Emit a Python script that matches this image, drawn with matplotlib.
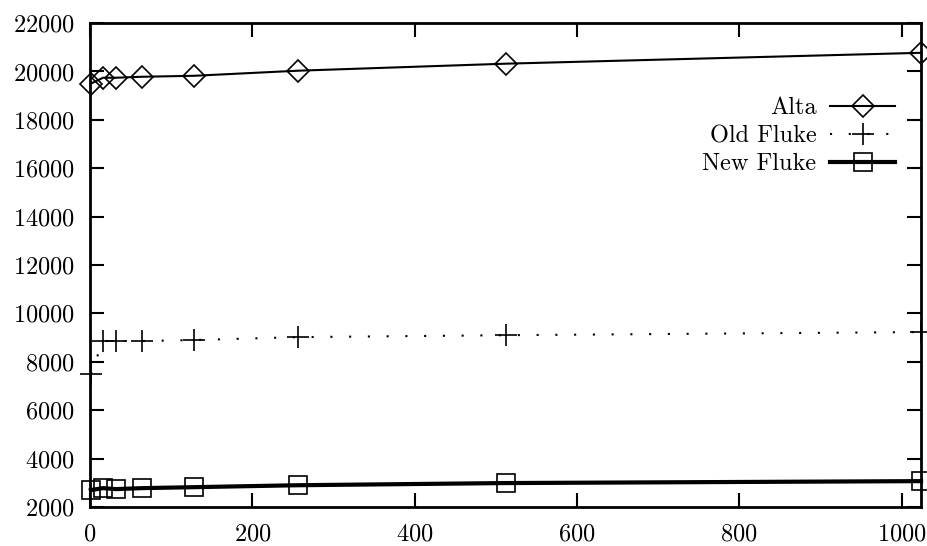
import numpy as np
import matplotlib
matplotlib.use("Agg")
import matplotlib.pyplot as plt

plt.rcParams['font.family'] = ['cmr10', 'DejaVu Serif']
plt.rcParams['axes.formatter.use_mathtext'] = True

# data
threads = [1, 16, 32, 64, 128, 256, 512, 1024]
alta = [19495, 19740, 19740, 19780, 19820, 20030, 20320, 20770]
old_fluke = [7500, 8860, 8860, 8860, 8900, 9020, 9100, 9230]
new_fluke = [2700, 2780, 2740, 2780, 2820, 2900, 2990, 3070]

fig = plt.figure(figsize=(9.28, 5.46), dpi=100)
ax = fig.add_axes([0.097, 0.0714, 0.8955, 0.8864])

ax.plot(threads, alta, color='k', lw=1.5, marker='D', markersize=11,
        markerfacecolor='none', markeredgewidth=1.2, label='Alta', clip_on=False)
ax.plot(threads, old_fluke, color='k', lw=1.5, linestyle=(0, (1, 8)), marker='+',
        markersize=16, markeredgewidth=1.2, label='Old Fluke', clip_on=False)
ax.plot(threads, new_fluke, color='k', lw=3, marker='s', markersize=12.5,
        markerfacecolor='none', markeredgewidth=1.2, label='New Fluke', clip_on=False)

ax.set_xlim(0, 1024)
ax.set_ylim(2000, 22000)
ax.set_xticks(np.arange(0, 1001, 200))
ax.set_yticks(np.arange(2000, 22001, 2000))
ax.tick_params(direction='in', length=10, width=1.5, top=True, right=True,
               labelsize=17.5)
ax.tick_params(axis='y', pad=11)
ax.tick_params(axis='x', pad=12)
for s in ax.spines.values():
    s.set_linewidth(2)

ax.legend(loc='upper right', bbox_to_anchor=(0.978, 0.844), bbox_transform=fig.transFigure,
          frameon=False, markerfirst=False, fontsize=17.5, handlelength=2.7,
          handletextpad=0.55, labelspacing=0.24, borderpad=0)

fig.savefig('out.png', dpi=100)
